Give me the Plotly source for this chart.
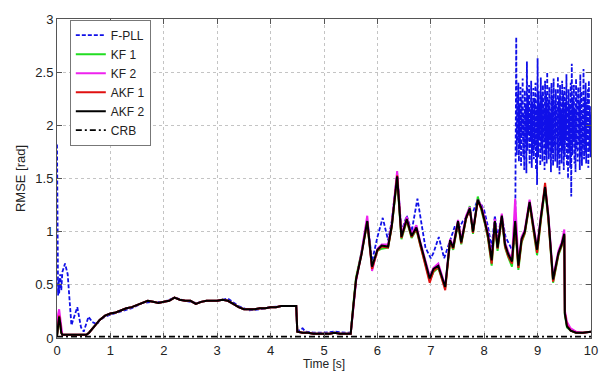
import numpy as np
import plotly.graph_objects as go

# ---------------- data ----------------
t_kf = [0, 0.02, 0.04, 0.06, 0.08, 0.1, 0.2, 0.3, 0.4, 0.5, 0.55, 0.6, 0.7, 0.8, 0.9,
        1.0, 1.1, 1.2, 1.3, 1.4, 1.5, 1.6, 1.7, 1.8, 1.9,
        2.0, 2.1, 2.2, 2.3, 2.4, 2.5, 2.6, 2.7, 2.8, 2.9,
        3.0, 3.1, 3.2, 3.3, 3.4, 3.5, 3.6, 3.7, 3.8, 3.9,
        4.0, 4.1, 4.2, 4.3, 4.4, 4.48, 4.5, 4.6, 4.7, 4.8, 4.9,
        5.0, 5.1, 5.2, 5.3, 5.4, 5.5, 5.55, 5.6, 5.7, 5.81, 5.9,
        6.0, 6.08, 6.2, 6.27, 6.37, 6.45, 6.55, 6.64, 6.73, 6.8, 6.89, 6.98,
        7.05, 7.14, 7.27, 7.36, 7.42, 7.51, 7.57, 7.66, 7.73, 7.79, 7.88, 7.95,
        8.01, 8.07, 8.14, 8.2, 8.25, 8.33, 8.39, 8.45, 8.52, 8.58, 8.64, 8.7, 8.76, 8.85, 8.92, 8.99,
        9.06, 9.14, 9.2, 9.29, 9.39, 9.45, 9.5, 9.51, 9.55, 9.62, 9.72, 9.85, 10.0]

akf2 = [0.02, 0.12, 0.20, 0.14, 0.05, 0.03, 0.03, 0.03, 0.025, 0.03, 0.03, 0.05, 0.11, 0.17, 0.21,
        0.23, 0.24, 0.26, 0.28, 0.29, 0.31, 0.33, 0.35, 0.34, 0.33,
        0.34, 0.35, 0.38, 0.36, 0.35, 0.35, 0.32, 0.34, 0.35, 0.35,
        0.35, 0.36, 0.35, 0.32, 0.29, 0.27, 0.27, 0.27, 0.28, 0.28,
        0.29, 0.29, 0.30, 0.30, 0.30, 0.30, 0.06, 0.05, 0.05, 0.04, 0.04,
        0.04, 0.04, 0.05, 0.04, 0.04, 0.04, 0.30, 0.55, 0.78, 1.10, 0.67,
        0.83, 0.87, 0.86, 1.06, 1.52, 0.95, 1.12, 0.96, 1.04, 0.90, 0.73, 0.56,
        0.65, 0.68, 0.48, 0.92, 0.85, 1.10, 0.90, 1.13, 1.22, 1.00, 1.30, 1.22,
        1.10, 0.97, 0.73, 1.10, 0.85, 1.15, 0.88, 0.79, 0.72, 1.10, 0.68, 0.93, 1.00, 1.28, 1.05, 0.83,
        1.13, 1.42, 1.15, 0.55, 0.80, 0.88, 0.98, 0.23, 0.11, 0.07, 0.05, 0.05, 0.06]

kf1 = [0.02, 0.10, 0.17, 0.12, 0.05, 0.03, 0.03, 0.03, 0.025, 0.03, 0.03, 0.05, 0.11, 0.17, 0.21,
       0.23, 0.24, 0.26, 0.28, 0.29, 0.31, 0.33, 0.35, 0.34, 0.33,
       0.34, 0.35, 0.38, 0.36, 0.35, 0.35, 0.32, 0.34, 0.35, 0.35,
       0.35, 0.36, 0.35, 0.32, 0.29, 0.27, 0.27, 0.27, 0.28, 0.28,
       0.29, 0.29, 0.30, 0.30, 0.30, 0.30, 0.06, 0.05, 0.05, 0.04, 0.04,
       0.04, 0.04, 0.05, 0.04, 0.04, 0.04, 0.32, 0.57, 0.80, 1.08, 0.66,
       0.82, 0.84, 0.85, 1.05, 1.50, 0.93, 1.10, 0.94, 1.02, 0.88, 0.70, 0.54,
       0.62, 0.66, 0.47, 0.90, 0.83, 1.08, 0.88, 1.12, 1.24, 0.98, 1.33, 1.20,
       1.08, 0.94, 0.68, 1.08, 0.82, 1.13, 0.85, 0.76, 0.67, 1.06, 0.64, 0.90, 0.98, 1.26, 1.02, 0.78,
       1.10, 1.40, 1.12, 0.52, 0.78, 0.86, 0.96, 0.22, 0.10, 0.07, 0.05, 0.05, 0.06]

kf2 = [0.02, 0.22, 0.27, 0.18, 0.06, 0.03, 0.03, 0.03, 0.025, 0.03, 0.03, 0.05, 0.11, 0.17, 0.21,
       0.23, 0.24, 0.26, 0.28, 0.29, 0.31, 0.33, 0.35, 0.34, 0.33,
       0.34, 0.35, 0.38, 0.36, 0.35, 0.35, 0.32, 0.34, 0.35, 0.35,
       0.35, 0.36, 0.35, 0.32, 0.29, 0.27, 0.27, 0.27, 0.28, 0.28,
       0.29, 0.29, 0.30, 0.30, 0.30, 0.30, 0.06, 0.05, 0.05, 0.04, 0.04,
       0.04, 0.04, 0.05, 0.04, 0.04, 0.04, 0.28, 0.53, 0.80, 1.15, 0.63,
       0.84, 0.88, 0.88, 1.08, 1.57, 0.97, 1.14, 0.98, 1.06, 0.91, 0.75, 0.58,
       0.66, 0.70, 0.49, 0.93, 0.87, 1.11, 0.92, 1.15, 1.23, 1.02, 1.30, 1.24,
       1.12, 0.99, 0.75, 1.12, 0.87, 1.17, 0.90, 0.81, 0.74, 1.31, 0.70, 0.95, 1.02, 1.30, 1.07, 0.85,
       1.15, 1.43, 1.17, 0.57, 0.82, 0.90, 1.02, 0.26, 0.15, 0.09, 0.06, 0.05, 0.06]

akf1 = [0.02, 0.13, 0.21, 0.14, 0.05, 0.03, 0.03, 0.03, 0.025, 0.03, 0.03, 0.05, 0.11, 0.17, 0.21,
        0.23, 0.24, 0.26, 0.28, 0.29, 0.31, 0.33, 0.35, 0.34, 0.33,
        0.34, 0.35, 0.38, 0.36, 0.35, 0.35, 0.32, 0.34, 0.35, 0.35,
        0.35, 0.36, 0.35, 0.32, 0.29, 0.27, 0.27, 0.27, 0.28, 0.28,
        0.29, 0.29, 0.30, 0.30, 0.30, 0.30, 0.06, 0.05, 0.05, 0.04, 0.04,
        0.04, 0.04, 0.05, 0.04, 0.04, 0.04, 0.30, 0.55, 0.78, 1.09, 0.65,
        0.82, 0.86, 0.85, 1.05, 1.53, 0.94, 1.11, 0.95, 1.03, 0.88, 0.71, 0.52,
        0.63, 0.67, 0.45, 0.91, 0.84, 1.09, 0.89, 1.12, 1.21, 0.99, 1.29, 1.21,
        1.09, 0.95, 0.70, 1.09, 0.84, 1.14, 0.86, 0.77, 0.70, 1.08, 0.66, 0.91, 0.99, 1.27, 1.03, 0.80,
        1.11, 1.46, 1.13, 0.53, 0.79, 0.87, 0.97, 0.24, 0.12, 0.07, 0.05, 0.05, 0.06]

t_pll = [0, 0.01, 0.02, 0.03, 0.04, 0.06, 0.08, 0.1, 0.15, 0.2, 0.27, 0.33, 0.38, 0.45, 0.5,
         0.59, 0.66, 0.75, 0.8, 0.9, 1.0, 1.2, 1.4, 1.6, 1.8, 2.0, 2.2, 2.4, 2.6, 2.8,
         3.0, 3.2, 3.4, 3.6, 3.8, 4.0, 4.2, 4.48, 4.5, 4.55, 4.6, 4.65, 4.8, 5.0, 5.2,
         5.4, 5.5, 5.55, 5.6, 5.7, 5.81, 5.9, 6.0, 6.1, 6.2, 6.27, 6.37, 6.45, 6.55, 6.64,
         6.75, 6.85, 6.9, 7.0, 7.05, 7.15, 7.25, 7.35, 7.45, 7.5, 7.6, 7.7, 7.8, 7.88, 7.95,
         8.0, 8.07, 8.14, 8.2, 8.25, 8.33, 8.4, 8.5, 8.58]
f_pll = [1.82, 1.2, 0.4, 0.55, 0.42, 0.6, 0.45, 0.62, 0.7, 0.6, 0.12, 0.22, 0.29, 0.1, 0.06,
         0.2, 0.15, 0.13, 0.17, 0.2, 0.22, 0.25, 0.28, 0.33, 0.34, 0.34, 0.38, 0.35, 0.33, 0.35,
         0.35, 0.37, 0.3, 0.26, 0.27, 0.29, 0.3, 0.3, 0.06, 0.08, 0.09, 0.06, 0.05, 0.05, 0.06,
         0.05, 0.05, 0.3, 0.55, 0.8, 1.12, 0.72, 0.95, 1.13, 0.92, 1.1, 1.55, 1.0, 1.15, 1.0,
         1.31, 1.0, 0.85, 0.75, 0.8, 0.95, 0.75, 0.9, 1.05, 1.0, 1.1, 1.15, 1.2, 1.3, 1.25,
         1.2, 1.05, 0.85, 1.15, 0.95, 1.15, 0.95, 0.85, 0.9]

# F-PLL in its noisy stretch, 8.60 s to 10.00 s every 0.01 s
t_pll_noise = np.round(np.linspace(8.60, 10.00, 141), 2)
f_pll_noise = [2.83, 1.72, 2.30, 1.85, 2.40, 1.66, 2.18, 1.78, 2.36, 1.62,
               2.25, 1.90, 2.44, 1.70, 2.12, 1.58, 2.33, 1.82, 2.20, 1.55,
               2.60, 1.76, 2.28, 1.92, 2.38, 1.64, 2.15, 1.86, 2.42, 1.60,
               2.22, 1.74, 2.35, 1.68, 2.26, 1.80, 2.40, 1.58, 2.18, 1.44,
               2.63, 1.70, 2.32, 1.88, 2.20, 1.62, 2.45, 1.76, 2.28, 1.66,
               2.38, 1.84, 2.16, 1.58, 2.42, 1.72, 2.30, 1.64, 2.50, 1.78,
               2.24, 1.68, 2.36, 1.86, 2.12, 1.56, 2.40, 1.74, 2.28, 1.62,
               2.44, 1.80, 2.20, 1.66, 2.34, 1.90, 2.18, 1.60, 2.46, 1.72,
               2.26, 1.54, 2.38, 1.82, 2.14, 1.64, 2.42, 1.76, 2.30, 1.58,
               2.36, 1.70, 2.22, 1.86, 2.48, 1.62, 2.18, 1.50, 2.34, 1.74,
               2.20, 1.60, 2.40, 1.33, 2.58, 1.72, 2.26, 1.84, 2.38, 1.64,
               2.16, 1.56, 2.44, 1.78, 2.28, 1.66, 2.36, 1.82, 2.20, 1.58,
               2.48, 1.70, 2.32, 1.62, 2.14, 1.80, 2.53, 1.68, 2.26, 1.74,
               2.40, 1.64, 2.22, 1.86, 2.34, 1.60, 2.42, 1.76, 2.18, 1.70,
               2.10]

t_crb = [0, 10]
crb = [0.012, 0.012]

x_ticks = [0, 1, 2, 3, 4, 5, 6, 7, 8, 9, 10]
y_ticks = [0, 0.5, 1, 1.5, 2, 2.5, 3]

# ---------------- figure ----------------
fig = go.Figure()
fig.add_trace(go.Scatter(x=list(t_pll) + list(t_pll_noise), y=list(f_pll) + list(f_pll_noise),
                         mode="lines", name="F-PLL",
                         line=dict(color="#1010e8", width=1.8, dash="4px,2px")))
fig.add_trace(go.Scatter(x=t_kf, y=kf1, mode="lines", name="KF 1",
                         line=dict(color="#22dd22", width=2)))
fig.add_trace(go.Scatter(x=t_kf, y=kf2, mode="lines", name="KF 2",
                         line=dict(color="#ee22ee", width=2)))
fig.add_trace(go.Scatter(x=t_kf, y=akf1, mode="lines", name="AKF 1",
                         line=dict(color="#e01010", width=2)))
fig.add_trace(go.Scatter(x=t_kf, y=akf2, mode="lines", name="AKF 2",
                         line=dict(color="#000000", width=2)))
fig.add_trace(go.Scatter(x=t_crb, y=crb, mode="lines", name="CRB",
                         line=dict(color="#000000", width=1.8, dash="6px,3px,2px,3px")))

font_family = "Liberation Sans, Arial, Helvetica, sans-serif"
axis_common = dict(showgrid=True, gridcolor="#c4c4c4", griddash="dot", gridwidth=1,
                   showline=True, linecolor="#555555", linewidth=1, mirror="ticks",
                   ticks="inside", ticklen=5, tickcolor="#555555", zeroline=False,
                   automargin=False,
                   tickfont=dict(size=13, color="#222222"))

fig.update_layout(
    width=604, height=371,
    margin=dict(l=57, r=13, t=19, b=33),
    paper_bgcolor="white", plot_bgcolor="white",
    font=dict(family=font_family, size=13, color="#222222"),
    showlegend=True,
    legend=dict(x=0.024, y=0.998, xanchor="left", yanchor="top",
                bgcolor="white", bordercolor="#777777", borderwidth=1,
                font=dict(size=12, color="#222222"), tracegroupgap=0,
                itemwidth=30),
    xaxis=dict(range=[0, 10], tickvals=x_ticks,
               title=dict(text="Time [s]", standoff=5, font=dict(size=12)), **axis_common),
    yaxis=dict(range=[0, 3], tickvals=y_ticks,
               title=dict(text="RMSE [rad]", standoff=6, font=dict(size=13)), **axis_common),
)

fig.write_html("out.html", config={"displayModeBar": False},
               post_script="document.body.style.margin='0';document.body.style.padding='0';")
